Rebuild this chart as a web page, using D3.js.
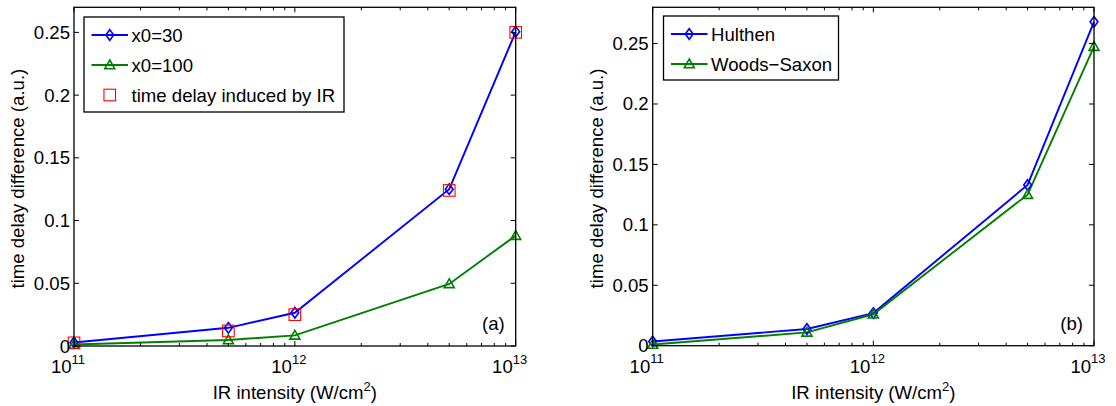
<!DOCTYPE html>
<html>
<head>
<meta charset="utf-8">
<script src="https://cdn.jsdelivr.net/npm/d3@7"></script>
<style>
  html, body { margin: 0; padding: 0; background: #fff; }
  svg { display: block; font-family: "Liberation Sans", Arial, Helvetica, sans-serif; }
</style>
</head>
<body>
<svg id="chart" width="1116" height="406"></svg>
<script>
// ---- Data ----
const intensities = [1e11, 5e11, 1e12, 5e12, 1e13];
const x0_30      = [0.0028, 0.0145, 0.0265, 0.1250, 0.2505];
const x0_100     = [0.0012, 0.0048, 0.0085, 0.0495, 0.0880];
const irDelay    = [0.0025, 0.0120, 0.0250, 0.1240, 0.2500];
const hulthen    = [0.0035, 0.0138, 0.0270, 0.1330, 0.2680];
const woodsSaxon = [0.0010, 0.0110, 0.0260, 0.1250, 0.2475];
const yTicks = [0, 0.05, 0.1, 0.15, 0.2, 0.25];
const xMajorTicks = [1e11, 1e12, 1e13];
const xTickExps = ["11", "12", "13"];
const legendA = ["x0=30", "x0=100", "time delay induced by IR"];
const legendB = ["Hulthen", "Woods\u2212Saxon"];

const BLUE = "#0000ff", GREEN = "#008000", RED = "#ff0000";
const FS = 18.6;

const svg = d3.select("#chart");

function diamond(g, x, y, color) {
  const h = 5.3, w = 3.9;
  g.append("path")
    .attr("d", `M${x},${y - h}L${x + w},${y}L${x},${y + h}L${x - w},${y}Z`)
    .attr("fill", "none").attr("stroke", color).attr("stroke-width", 1.6);
}
function triangle(g, x, y, color) {
  const s = 5;
  g.append("path")
    .attr("d", `M${x},${y - s}L${x + s},${y + s * 0.75}L${x - s},${y + s * 0.75}Z`)
    .attr("fill", "none").attr("stroke", color).attr("stroke-width", 1.6);
}
function square(g, x, y, color) {
  const s = 5.8;
  g.append("rect")
    .attr("x", x - s).attr("y", y - s).attr("width", 2 * s).attr("height", 2 * s)
    .attr("fill", "none").attr("stroke", color).attr("stroke-width", 1.1);
}

function panel(opts) {
  const { left, right, top, bottom, ymax, series, legend, tag } = opts;
  const g = svg.append("g");
  const x = d3.scaleLog().domain([1e11, 1e13]).range([left, right]);
  const y = d3.scaleLinear().domain([0, ymax]).range([bottom, top]);

  // series
  series.forEach(s => {
    if (s.line) {
      const line = d3.line().x((d, i) => x(intensities[i])).y(d => y(d));
      g.append("path").datum(s.values).attr("d", line)
        .attr("fill", "none").attr("stroke", s.color).attr("stroke-width", 1.9);
    }
  });
  series.forEach(s => {
    s.values.forEach((v, i) => s.marker(g, x(intensities[i]), y(v), s.color));
  });

  // box
  g.append("rect").attr("x", left).attr("y", top)
    .attr("width", right - left).attr("height", bottom - top)
    .attr("fill", "none").attr("stroke", "#000").attr("stroke-width", 1.3);

  // x ticks (major + minor), bottom and top, inward
  const minor = [];
  [1e11, 1e12].forEach(d => { for (let k = 2; k <= 9; k++) minor.push(d * k); });
  xMajorTicks.forEach(t => {
    g.append("line").attr("x1", x(t)).attr("x2", x(t)).attr("y1", bottom).attr("y2", bottom - 5).attr("stroke", "#000");
    g.append("line").attr("x1", x(t)).attr("x2", x(t)).attr("y1", top).attr("y2", top + 5).attr("stroke", "#000");
  });
  minor.forEach(t => {
    g.append("line").attr("x1", x(t)).attr("x2", x(t)).attr("y1", bottom).attr("y2", bottom - 3).attr("stroke", "#000");
    g.append("line").attr("x1", x(t)).attr("x2", x(t)).attr("y1", top).attr("y2", top + 3).attr("stroke", "#000");
  });
  // x tick labels 10^n
  xMajorTicks.forEach((t, i) => {
    const tx = g.append("text").attr("x", x(t) - 6).attr("y", bottom + 27)
      .attr("text-anchor", "middle").attr("font-size", FS).attr("fill", "#000");
    tx.append("tspan").text("10");
    tx.append("tspan").attr("font-size", 13).attr("dy", -9.5).text(xTickExps[i]);
  });

  // y ticks
  yTicks.forEach(t => {
    g.append("line").attr("x1", left).attr("x2", left + 5).attr("y1", y(t)).attr("y2", y(t)).attr("stroke", "#000");
    g.append("line").attr("x1", right).attr("x2", right - 5).attr("y1", y(t)).attr("y2", y(t)).attr("stroke", "#000");
    g.append("text").attr("x", left - 4).attr("y", y(t)).attr("dy", "0.35em")
      .attr("text-anchor", "end").attr("font-size", FS).attr("fill", "#000")
      .text(t === 0 ? "0" : String(+t.toFixed(2)));
  });

  // axis labels
  const xl = g.append("text").attr("x", (left + right) / 2).attr("y", 399)
    .attr("text-anchor", "middle").attr("font-size", FS).attr("fill", "#000");
  xl.append("tspan").text("IR intensity (W/cm");
  xl.append("tspan").attr("font-size", 13).attr("dy", -8).text("2");
  xl.append("tspan").attr("dy", 8).text(")");

  g.append("text").attr("transform", `translate(${left - 50},${(top + bottom) / 2 + 2}) rotate(-90)`)
    .attr("text-anchor", "middle").attr("font-size", FS).attr("fill", "#000")
    .text("time delay difference (a.u.)");

  // panel tag
  g.append("text").attr("x", right - 11).attr("y", bottom - 16)
    .attr("text-anchor", "end").attr("font-size", FS).attr("fill", "#000").text(tag);

  // legend
  const L = legend;
  g.append("rect").attr("x", L.x).attr("y", L.y).attr("width", L.w).attr("height", L.h)
    .attr("fill", "#fff").attr("stroke", "#000").attr("stroke-width", 1.3);
  L.items.forEach((it, i) => {
    const cy = L.y + 18 + i * 30;
    const lx0 = L.x + 7.5, lx1 = L.x + 44, mx = (lx0 + lx1) / 2;
    if (it.line) {
      g.append("line").attr("x1", lx0).attr("x2", lx1).attr("y1", cy).attr("y2", cy)
        .attr("stroke", it.color).attr("stroke-width", 1.9);
    }
    it.marker(g, mx, cy, it.color);
    g.append("text").attr("x", L.x + 47.5).attr("y", cy).attr("dy", "0.36em")
      .attr("font-size", FS).attr("fill", "#000").text(it.label);
  });
}

panel({
  left: 74, right: 515.7, top: 7.3, bottom: 346, ymax: 0.27, tag: "(a)",
  series: [
    { values: x0_30, color: BLUE, line: true, marker: diamond },
    { values: x0_100, color: GREEN, line: true, marker: triangle },
    { values: irDelay, color: RED, line: false, marker: square }
  ],
  legend: { x: 84, y: 17, w: 260, h: 95, items: [
    { label: legendA[0], color: BLUE, line: true, marker: diamond },
    { label: legendA[1], color: GREEN, line: true, marker: triangle },
    { label: legendA[2], color: RED, line: false, marker: square }
  ]}
});

panel({
  left: 652.7, right: 1094, top: 7.3, bottom: 345.7, ymax: 0.28, tag: "(b)",
  series: [
    { values: hulthen, color: BLUE, line: true, marker: diamond },
    { values: woodsSaxon, color: GREEN, line: true, marker: triangle }
  ],
  legend: { x: 663.5, y: 16, w: 175, h: 64, items: [
    { label: legendB[0], color: BLUE, line: true, marker: diamond },
    { label: legendB[1], color: GREEN, line: true, marker: triangle }
  ]}
});
</script>
</body>
</html>
